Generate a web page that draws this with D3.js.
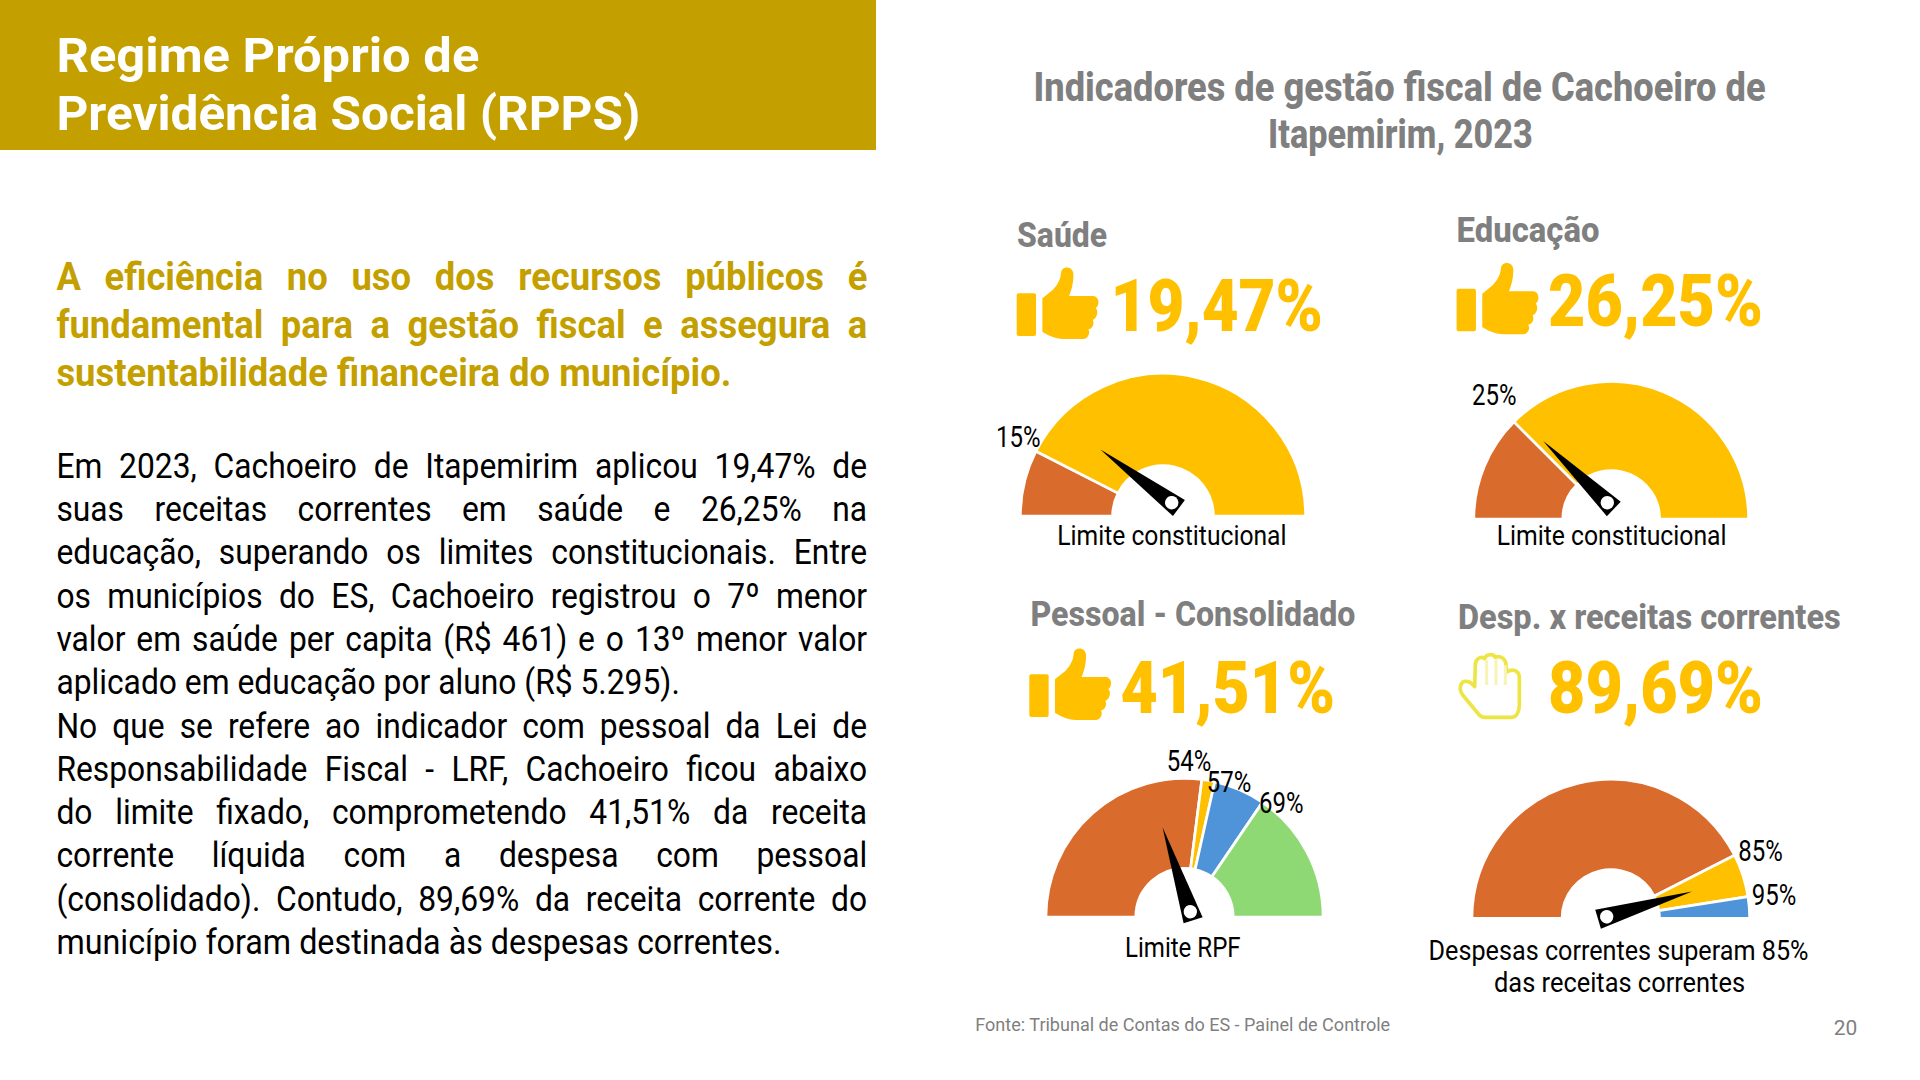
<!DOCTYPE html>
<html>
<head>
<meta charset="utf-8">
<script src="https://cdn.jsdelivr.net/npm/d3@7"></script>
<style>
html, body { margin: 0; padding: 0; background: #fff; }
svg { display: block; font-family: Roboto, sans-serif; }
</style>
</head>
<body>
<svg id="slide" width="1920" height="1080"></svg>
<script>
// values
const gaugeNames = ['Saúde', 'Educação', 'Pessoal - Consolidado', 'Desp. x receitas correntes'];
const gaugeValueLabels = ['19,47%', '26,25%', '41,51%', '89,69%'];
const needleReadings = [20.4, 24.4, 39.9, 90.9]; // where the needles actually point
const gaugeLimits = [[15], [25], [54, 57, 69], [85, 95]];
const gaugeColors = [
    ['#D96B2D', '#FFC000'],
    ['#D96B2D', '#FFC000'],
    ['#D96B2D', '#FFC000', '#4F94D8', '#8FD975'],
    ['#D96B2D', '#FFC000', '#4F94D8']
];
const gaugeCaptions = [
    ['Limite constitucional'],
    ['Limite constitucional'],
    ['Limite RPF'],
    ['Despesas correntes superam 85%', 'das receitas correntes']
];
const titleLines = ['Regime Próprio de', 'Previdência Social (RPPS)'];
const chartTitle = ['Indicadores de gestão fiscal de Cachoeiro de', 'Itapemirim, 2023'];
const leadLines = [
    'A eficiência no uso dos recursos públicos é',
    'fundamental para a gestão fiscal e assegura a',
    'sustentabilidade financeira do município.'
];
const bodyLines = [
    'Em 2023, Cachoeiro de Itapemirim aplicou 19,47% de',
    'suas receitas correntes em saúde e 26,25% na',
    'educação, superando os limites constitucionais. Entre',
    'os municípios do ES, Cachoeiro registrou o 7º menor',
    'valor em saúde per capita (R$ 461) e o 13º menor valor',
    'aplicado em educação por aluno (R$ 5.295).',
    'No que se refere ao indicador com pessoal da Lei de',
    'Responsabilidade Fiscal - LRF, Cachoeiro ficou abaixo',
    'do limite fixado, comprometendo 41,51% da receita',
    'corrente líquida com a despesa com pessoal',
    '(consolidado). Contudo, 89,69% da receita corrente do',
    'município foram destinada às despesas correntes.'
];
const sourceText = 'Fonte: Tribunal de Contas do ES - Painel de Controle';
const pageNumber = '20';

// layout per gauge, measured from the slide
const layout = [
    { cx: 1163, cy: 516, r: 142.6, hole: 50.4, px: 1171.7, py: 502.7,
      name: [1017, 246.5, 90.2], value: [1110.5, 331, 212.5], icon: [1016.7, 267.3],
      limitAt: [[996, 447]], cap: [[1057.3, 544.8, 229.3]] },
    { cx: 1611.2, cy: 519, r: 137.4, hole: 48.4, px: 1607.3, py: 502.7,
      name: [1456.6, 242.2, 142.9], value: [1548, 326, 215], icon: [1456.6, 262.7],
      limitAt: [[1472, 405]], cap: [[1496.7, 544.8, 230]] },
    { cx: 1184.5, cy: 917, r: 138.6, hole: 48.7, px: 1190.3, py: 911.7,
      name: [1030.5, 625.5, 325], value: [1120.5, 712.5, 214.5], icon: [1029.3, 648.3],
      limitAt: [[1166.7, 771], [1206.7, 791.7], [1259, 813.3]], cap: [[1125, 957.2, 115.7]] },
    { cx: 1610.8, cy: 918.3, r: 138.9, hole: 48.7, px: 1606.7, py: 916.7,
      name: [1457.9, 628.8, 383.1], value: [1548, 712.5, 215], icon: null,
      limitAt: [[1738.3, 860.7], [1751.7, 905]], cap: [[1428.6, 959.5, 380], [1494, 992.2, 251]] }
];

const GOLD = '#C49F00', GREY = '#7F7F7F', AMBER = '#FFC000';
const svg = d3.select('#slide');

// plain text squeezed or stretched to a measured width
function fitText(str, x, y, size, width, opt = {}) {
    const t = svg.append('text')
        .attr('font-size', size)
        .attr('font-weight', opt.weight || 400)
        .attr('fill', opt.fill || '#000')
        .text(str);
    const natural = t.node().getComputedTextLength();
    let sx = width / natural;
    if (opt.sx) {
        // justified line: glyph scale given, leftovers go between the words
        sx = opt.sx;
        t.attr('word-spacing', (width / sx - natural) / (str.split(' ').length - 1));
    }
    t.attr('transform', `translate(${x},${y}) scale(${sx},1)`);
    return sx;
}

// header band
svg.append('rect').attr('x', 0).attr('y', 0).attr('width', 876).attr('height', 150).attr('fill', GOLD);
fitText(titleLines[0], 56.4, 72, 48, 423, { weight: 700, fill: '#fff' });
fitText(titleLines[1], 56.4, 129.5, 48, 584, { weight: 700, fill: '#fff' });

// left column, the unjustified last lines set the glyph scale
const leadSx = fitText(leadLines[2], 56.4, 386, 38.5, 675, { weight: 700, fill: GOLD });
[0, 1].forEach(i => fitText(leadLines[i], 56.4, 290.3 + i * 48, 38.5, 811, { weight: 700, fill: GOLD, sx: leadSx }));

const bodyY = d3.scaleLinear().domain([0, 11]).range([477.7, 954]);
const bodySx = fitText(bodyLines[5], 56.4, bodyY(5), 35, 623.6);
bodyLines.forEach((line, i) => {
    if (i === 5) return;
    if (i === 11) fitText(line, 56.4, bodyY(i), 35, 725.3);
    else fitText(line, 56.4, bodyY(i), 35, 811, { sx: bodySx });
});

// right column heading
fitText(chartTitle[0], 1033.5, 100.5, 41, 732.5, { weight: 800, fill: GREY });
fitText(chartTitle[1], 1268, 148.2, 41, 265, { weight: 800, fill: GREY });

// icons, drawn in a 3x grid
function thumb(x, y) {
    const g = svg.append('g').attr('transform', `translate(${x - 20 / 3},${y - 22 / 3}) scale(${1 / 3})`).attr('fill', AMBER);
    g.append('rect').attr('x', 20).attr('y', 100).attr('width', 58).attr('height', 128).attr('rx', 6);
    g.append('path').attr('d', 'M97,115 L128,90 C145,72 152,55 153,38 C155,18 188,16 190,42 C191,65 185,90 177,108 L250,108 C268,110 270,135 257,145 C266,152 262,175 248,180 C254,190 248,207 235,208 C242,220 233,237 220,237 L160,237 C135,236 112,225 97,215 Z');
}
function stopHand(x, y) {
    const g = svg.append('g').attr('transform', `translate(${x},${y}) scale(${1 / 3})`);
    g.append('path').attr('d', 'M88,225 L38,165 C24,145 32,122 50,124 C60,125 68,132 74,140 L76,72 C78,52 98,48 104,56 C108,42 130,40 136,52 C150,46 168,56 168,76 L170,96 C190,84 206,92 208,110 L208,195 C208,215 200,232 185,232 L105,232 C98,232 92,230 88,225 Z')
        .attr('fill', '#fff').attr('stroke', '#EDE544').attr('stroke-width', 11).attr('stroke-linejoin', 'round');
    g.append('path').attr('d', 'M110,60 L110,135 M138,56 L138,135 M166,76 L166,135')
        .attr('fill', 'none').attr('stroke', '#F8F4B4').attr('stroke-width', 9);
}

// gauges, 0-100 mapped onto the half circle
const angle = d3.scaleLinear().domain([0, 100]).range([-Math.PI / 2, Math.PI / 2]);
const needleShape = d3.line();

gaugeNames.forEach((name, i) => {
    const L = layout[i];
    fitText(name, L.name[0], L.name[1], 34.5, L.name[2], { weight: 800, fill: GREY });
    fitText(gaugeValueLabels[i], L.value[0], L.value[1], 72, L.value[2], { weight: 900, fill: AMBER });
    if (L.icon) thumb(L.icon[0], L.icon[1]); else stopHand(1450, 640);

    const stops = [0, ...gaugeLimits[i], 100];
    const arc = d3.arc().innerRadius(L.hole).outerRadius(L.r);
    const g = svg.append('g').attr('transform', `translate(${L.cx},${L.cy})`);
    g.selectAll('path').data(d3.pairs(stops)).join('path')
        .attr('d', d => arc({ startAngle: angle(d[0]), endAngle: angle(d[1]) }))
        .attr('fill', (d, k) => gaugeColors[i][k])
        .attr('stroke', '#fff').attr('stroke-width', 2.7);

    gaugeLimits[i].forEach((lim, k) => {
        fitText(lim + '%', L.limitAt[k][0], L.limitAt[k][1], 29, 44.5);
    });

    // needle: long triangle with a flat end and a white pin
    const n = svg.append('g')
        .attr('transform', `translate(${L.px},${L.py}) rotate(${angle(needleReadings[i]) * 180 / Math.PI})`);
    n.append('path').attr('d', needleShape([[0, -89], [10, 9], [-10, 9]]) + 'Z').attr('fill', '#000');
    n.append('circle').attr('r', 6.7).attr('fill', '#fff');

    gaugeCaptions[i].forEach((c, k) => {
        fitText(c, L.cap[k][0], L.cap[k][1], 27.5, L.cap[k][2]);
    });
});

fitText(sourceText, 975.3, 1030.7, 18.5, 415, { fill: GREY });
svg.append('text').attr('x', 1833.7).attr('y', 1035).attr('font-size', 21).attr('fill', GREY).text(pageNumber);
</script>
</body>
</html>
